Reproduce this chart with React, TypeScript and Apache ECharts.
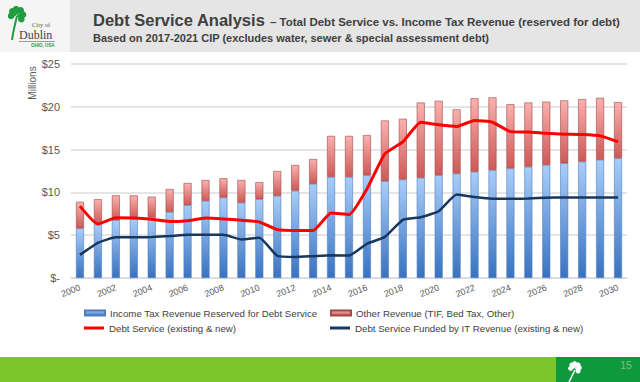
import React, { useEffect, useRef } from 'react';
import * as echarts from 'echarts';

const years = ['2000', '2001', '2002', '2003', '2004', '2005', '2006', '2007', '2008', '2009', '2010', '2011', '2012', '2013', '2014', '2015', '2016', '2017', '2018', '2019', '2020', '2021', '2022', '2023', '2024', '2025', '2026', '2027', '2028', '2029', '2030'];
const incomeTax = [5.8, 6.3, 6.75, 6.9, 7.1, 7.7, 8.5, 9.0, 9.4, 8.8, 9.2, 9.6, 10.2, 11.0, 11.8, 11.8, 12.0, 11.3, 11.5, 11.7, 12.0, 12.2, 12.4, 12.6, 12.8, 13.0, 13.2, 13.4, 13.6, 13.8, 14.0];
const otherRevenue = [3.1, 2.9, 2.9, 2.75, 2.4, 2.7, 2.6, 2.45, 2.25, 2.65, 2.0, 2.9, 3.0, 2.9, 4.8, 4.8, 4.7, 7.1, 7.1, 8.8, 8.7, 7.5, 8.6, 8.5, 7.5, 7.5, 7.4, 7.35, 7.3, 7.25, 6.55];
const debtService = [8.4, 6.3, 7.05, 7.0, 6.85, 6.6, 6.7, 7.0, 6.9, 6.75, 6.55, 5.65, 5.55, 5.55, 7.6, 7.4, 10.4, 14.5, 15.9, 18.2, 17.9, 17.7, 18.4, 18.2, 17.1, 17.05, 16.9, 16.8, 16.75, 16.6, 15.9];
const itFunded = [2.7, 4.1, 4.75, 4.75, 4.8, 4.9, 5.05, 5.05, 5.05, 4.5, 4.7, 2.6, 2.45, 2.55, 2.65, 2.62, 4.0, 4.8, 6.8, 7.1, 7.8, 9.75, 9.45, 9.25, 9.25, 9.3, 9.38, 9.4, 9.4, 9.4, 9.4];

const seriesNames = [
  'Income Tax Revenue Reserved for Debt Service',
  'Other Revenue (TIF, Bed Tax, Other)',
  'Debt Service (existing & new)',
  'Debt Service Funded by IT Revenue (existing & new)',
];

const FONT = '"Liberation Sans", Arial, sans-serif';

function shamrock(cx: number, cy: number, d: number, w: number, r: number, color: string, angles: number[]) {
  const children: any[] = [];
  angles.forEach((deg) => {
    const a = (deg * Math.PI) / 180;
    const ux = Math.cos(a), uy = Math.sin(a);
    const vx = -uy, vy = ux;
    const px = cx + d * ux, py = cy + d * uy;
    children.push({ type: 'circle', shape: { cx: px + w * vx, cy: py + w * vy, r }, style: { fill: color } });
    children.push({ type: 'circle', shape: { cx: px - w * vx, cy: py - w * vy, r }, style: { fill: color } });
    children.push({
      type: 'polygon',
      shape: {
        points: [
          [cx, cy],
          [px + (w + r * 0.9) * vx, py + (w + r * 0.9) * vy],
          [px - (w + r * 0.9) * vx, py - (w + r * 0.9) * vy],
        ],
      },
      style: { fill: color },
    });
  });
  return children;
}

export default function App() {
  const ref = useRef<HTMLDivElement>(null);
  useEffect(() => {
    if (!ref.current) return;
    const chart = echarts.init(ref.current, null, { renderer: 'svg' });
    const blueGrad = new echarts.graphic.LinearGradient(0, 0, 0, 1, [
      { offset: 0, color: '#a9cdf9' },
      { offset: 1, color: '#3872c0' },
    ]);
    const redGrad = new echarts.graphic.LinearGradient(0, 0, 0, 1, [
      { offset: 0, color: '#f9b1af' },
      { offset: 1, color: '#cd5957' },
    ]);
    const legendText = { fontSize: 9.7, color: '#404040', fontFamily: FONT };
    const legendBase = { itemWidth: 20, selectedMode: false, padding: 0, textStyle: legendText };
    const green = '#1f9d3f';
    const option: any = {
      animation: false,
      textStyle: { fontFamily: FONT },
      grid: { left: 71, right: 13, top: 64, bottom: 104, containLabel: false },
      xAxis: {
        type: 'category',
        data: years,
        axisTick: { show: false },
        axisLine: { lineStyle: { color: '#d9d9d9', width: 1.5 } },
        axisLabel: { interval: 1, rotate: 22, fontSize: 9, color: '#595959', margin: 9 },
      },
      yAxis: {
        type: 'value',
        min: 0,
        max: 25,
        interval: 5,
        axisLine: { show: false },
        axisTick: { show: false },
        axisLabel: {
          fontSize: 11,
          color: '#595959',
          margin: 11,
          formatter: (v: number) => (v === 0 ? '$-' : '$' + v),
        },
        splitLine: { lineStyle: { color: '#dcdcdc', width: 1.5 } },
      },
      legend: [
        { ...legendBase, data: [{ name: seriesNames[0], icon: 'rect' }], left: 84, top: 308, itemHeight: 5 },
        { ...legendBase, data: [{ name: seriesNames[1], icon: 'rect' }], left: 330, top: 308, itemHeight: 5 },
        { ...legendBase, data: [{ name: seriesNames[2], icon: 'rect' }], left: 84, top: 323, itemHeight: 3 },
        { ...legendBase, data: [{ name: seriesNames[3], icon: 'rect' }], left: 330, top: 323, itemHeight: 3 },
      ],
      series: [
        {
          name: seriesNames[0],
          type: 'bar',
          stack: 'rev',
          barWidth: 8,
          data: incomeTax,
          itemStyle: { color: blueGrad, borderColor: '#4f7fbf', borderWidth: 0.6 },
        },
        {
          name: seriesNames[1],
          type: 'bar',
          stack: 'rev',
          barWidth: 8,
          data: otherRevenue,
          itemStyle: { color: redGrad, borderColor: '#9e4a48', borderWidth: 0.6 },
        },
        {
          name: seriesNames[2],
          type: 'line',
          data: debtService,
          symbol: 'none',
          smooth: 0.15,
          z: 5,
          itemStyle: { color: '#ff0000' },
          lineStyle: { color: '#ff0000', width: 3 },
        },
        {
          name: seriesNames[3],
          type: 'line',
          data: itFunded,
          symbol: 'none',
          smooth: 0.15,
          z: 5,
          itemStyle: { color: '#17375e' },
          lineStyle: { color: '#17375e', width: 2.5 },
        },
      ],
      graphic: [
        { type: 'rect', shape: { x: 0, y: 0, width: 640, height: 52 }, style: { fill: '#e5e5e5' }, z: -10 },
        { type: 'rect', shape: { x: 0, y: 0, width: 70, height: 52 }, style: { fill: '#f5f5f5' }, z: -9 },
        {
          type: 'group',
          children: [
            { type: 'bezierCurve', shape: { x1: 17, y1: 16, x2: 12, y2: 40, cpx1: 15, cpy1: 24, cpx2: 13, cpy2: 33 }, style: { stroke: green, lineWidth: 2, fill: 'none' } },
            ...shamrock(17, 15, 5.5, 2.4, 3.3, green, [195, 285, 20]),
          ],
        },
        { type: 'text', x: 32, y: 24, style: { text: 'City of', fontSize: 6.5, fontFamily: '"Liberation Serif", serif', fill: '#555555', verticalAlign: 'middle' } },
        { type: 'text', x: 19, y: 35, style: { text: 'Dublin', fontSize: 12, fontFamily: '"Liberation Serif", serif', fill: '#444444', verticalAlign: 'middle' } },
        { type: 'line', shape: { x1: 19, y1: 41.5, x2: 55, y2: 41.5 }, style: { stroke: '#9a9a9a', lineWidth: 1 } },
        { type: 'text', x: 31, y: 45, style: { text: 'OHIO, USA', fontSize: 4.5, fontWeight: 'bold', fontFamily: FONT, fill: green, verticalAlign: 'middle' } },
        { type: 'text', x: 93, y: 20, style: { text: 'Debt Service Analysis', fontSize: 16.5, fontWeight: 'bold', fontFamily: FONT, fill: '#404040', verticalAlign: 'middle' } },
        { type: 'text', x: 270, y: 21.5, style: { text: '– Total Debt Service vs. Income Tax Revenue (reserved for debt)', fontSize: 11.5, fontWeight: 'bold', fontFamily: FONT, fill: '#404040', verticalAlign: 'middle' } },
        { type: 'text', x: 93, y: 38, style: { text: 'Based on 2017-2021 CIP (excludes water, sewer & special assessment debt)', fontSize: 11, fontWeight: 'bold', fontFamily: FONT, fill: '#404040', verticalAlign: 'middle' } },
        { type: 'text', x: 32, y: 83, rotation: Math.PI / 2, style: { text: 'Millions', fontSize: 10, fontFamily: FONT, fill: '#595959', align: 'center', verticalAlign: 'middle' } },
        { type: 'rect', shape: { x: 0, y: 357, width: 640, height: 25 }, style: { fill: '#7cc62c' }, z: -10 },
        { type: 'rect', shape: { x: 556, y: 357, width: 84, height: 25 }, style: { fill: '#0e9a3c' }, z: -9 },
        {
          type: 'group',
          children: [
            { type: 'bezierCurve', shape: { x1: 575, y1: 370, x2: 569, y2: 382, cpx1: 573, cpy1: 374, cpx2: 571, cpy2: 378 }, style: { stroke: '#ffffff', lineWidth: 1.5, fill: 'none' } },
            ...shamrock(575, 368, 4, 1.8, 2.5, '#ffffff', [200, 290, 20]),
          ],
        },
        { type: 'text', x: 626, y: 365, style: { text: '15', fontSize: 10.5, fontFamily: FONT, fill: '#8fb48f', align: 'center', verticalAlign: 'middle' } },
      ],
    };
    chart.setOption(option);
    return () => chart.dispose();
  }, []);
  return <div ref={ref} style={{ position: 'fixed', left: 0, top: 0, width: 640, height: 382, background: '#ffffff' }} />;
}
